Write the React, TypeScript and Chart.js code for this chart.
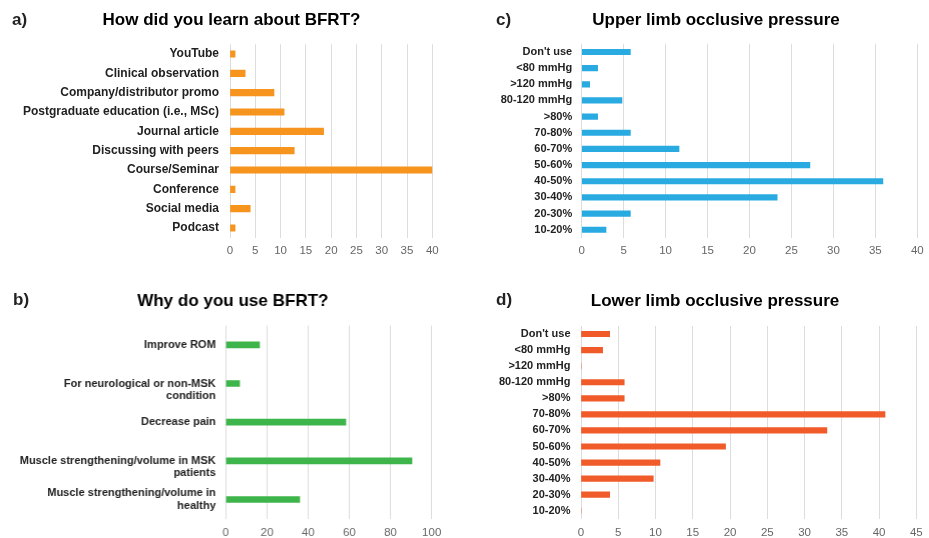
import React, { useEffect, useRef } from "react";
import { Chart, registerables } from "chart.js";

Chart.register(...registerables);

const FONT = "'Liberation Sans', Arial, Helvetica, sans-serif";

// a) How did you learn about BFRT?
const learnCategories = [
  "YouTube",
  "Clinical observation",
  "Company/distributor promo",
  "Postgraduate education (i.e., MSc)",
  "Journal article",
  "Discussing with peers",
  "Course/Seminar",
  "Conference",
  "Social media",
  "Podcast",
];
const learnValues = [1, 3, 8.7, 10.7, 18.5, 12.7, 40, 1, 4, 1];
const learnTicks = { max: 40, step: 5 };

// b) Why do you use BFRT?
const reasonCategories: (string | string[])[] = [
  "Improve ROM",
  ["", "For neurological or non-MSK", "condition"],
  "Decrease pain",
  ["", "Muscle strengthening/volume in MSK", "patients"],
  ["Muscle strengthening/volume in", "healthy"],
];
const reasonValues = [16.4, 6.7, 58.3, 90.4, 35.9];
const reasonTicks = { max: 100, step: 20 };

// c) Upper limb occlusive pressure
const pressureCategories = [
  "Don't use",
  "<80 mmHg",
  ">120 mmHg",
  "80-120 mmHg",
  ">80%",
  "70-80%",
  "60-70%",
  "50-60%",
  "40-50%",
  "30-40%",
  "20-30%",
  "10-20%",
];
const upperValues = [5.8, 1.9, 0.95, 4.8, 1.9, 5.8, 11.6, 27.2, 35.9, 23.3, 5.8, 2.9];
const upperTicks = { max: 40, step: 5 };

// d) Lower limb occlusive pressure
const lowerValues = [3.85, 2.9, 0, 5.8, 5.8, 40.8, 33.0, 19.4, 10.6, 9.7, 3.85, 0];
const lowerTicks = { max: 45, step: 5 };

type Panel = {
  letter: string;
  title: string;
  labels: (string | string[])[];
  values: number[];
  color: string;
  max: number;
  step: number;
  // layout
  left: number;
  top: number;
  width: number;
  height: number;
  axisWidth: number;
  rightWidth: number;
  labelPad: number;
  labelSize: number;
  labelLineHeight: number;
  tickPad: number;
  padBottom: number;
  titleTop: number;
  titleBottom: number;
  barThickness: number;
  letterX: number;
  letterY: number;
};

const panels: Panel[] = [
  {
    letter: "a)",
    title: "How did you learn about BFRT?",
    labels: learnCategories,
    values: learnValues,
    color: "#F7941D",
    max: learnTicks.max,
    step: learnTicks.step,
    left: 0,
    top: 0,
    width: 463,
    height: 262,
    axisWidth: 230,
    rightWidth: 30.7,
    labelPad: 11,
    labelSize: 12,
    labelLineHeight: 1.1,
    tickPad: 6,
    padBottom: 4.3,
    titleTop: 10.5,
    titleBottom: 13.4,
    barThickness: 6.5,
    letterX: 12,
    letterY: 11,
  },
  {
    letter: "b)",
    title: "Why do you use BFRT?",
    labels: reasonCategories,
    values: reasonValues,
    color: "#3DB54A",
    max: reasonTicks.max,
    step: reasonTicks.step,
    left: 0,
    top: 270,
    width: 464.6,
    height: 270,
    axisWidth: 225.3,
    rightWidth: 33.9,
    labelPad: 10,
    labelSize: 11,
    labelLineHeight: 1.15,
    tickPad: 7,
    padBottom: 1.2,
    titleTop: 21,
    titleBottom: 14.1,
    barThickness: 6,
    letterX: 13,
    letterY: 291,
  },
  {
    letter: "c)",
    title: "Upper limb occlusive pressure",
    labels: pressureCategories,
    values: upperValues,
    color: "#29ABE2",
    max: upperTicks.max,
    step: upperTicks.step,
    left: 495,
    top: 0,
    width: 442,
    height: 262,
    axisWidth: 86.7,
    rightWidth: 19.7,
    labelPad: 9.5,
    labelSize: 11,
    labelLineHeight: 1.1,
    tickPad: 6,
    padBottom: 4.2,
    titleTop: 10.5,
    titleBottom: 13,
    barThickness: 5.5,
    letterX: 496,
    letterY: 11,
  },
  {
    letter: "d)",
    title: "Lower limb occlusive pressure",
    labels: pressureCategories,
    values: lowerValues,
    color: "#F15A29",
    max: lowerTicks.max,
    step: lowerTicks.step,
    left: 493,
    top: 270,
    width: 444,
    height: 269,
    axisWidth: 88,
    rightWidth: 20.7,
    labelPad: 10.5,
    labelSize: 11,
    labelLineHeight: 1.1,
    tickPad: 7,
    padBottom: 0.2,
    titleTop: 21,
    titleBottom: 14.6,
    barThickness: 5.5,
    letterX: 496,
    letterY: 291,
  },
];

function BarPanel({ p }: { p: Panel }) {
  const ref = useRef<HTMLCanvasElement>(null);
  useEffect(() => {
    if (!ref.current) return;
    const chart = new Chart(ref.current, {
      type: "bar",
      data: {
        labels: p.labels as any,
        datasets: [
          {
            data: p.values,
            backgroundColor: p.color,
            borderWidth: 0,
            barThickness: p.barThickness,
          },
        ],
      },
      options: {
        indexAxis: "y",
        animation: false,
        responsive: true,
        maintainAspectRatio: false,
        events: [],
        layout: {
          padding: { left: 0, right: 0, top: 0, bottom: p.padBottom },
        },
        plugins: {
          legend: { display: false },
          tooltip: { enabled: false },
          title: {
            display: true,
            text: p.title,
            color: "#000",
            font: { family: FONT, size: 17, weight: "bold", lineHeight: 1.2 },
            padding: { top: p.titleTop, bottom: p.titleBottom },
          },
        },
        scales: {
          x: {
            min: 0,
            max: p.max,
            ticks: {
              stepSize: p.step,
              color: "#666",
              font: { family: FONT, size: 11.5, lineHeight: 1.2 },
              padding: p.tickPad,
            },
            grid: { color: "#dcdcdc", drawTicks: false, lineWidth: 1 },
            border: { display: false },
            afterFit: (scale: any) => {
              scale.height = 20;
            },
          },
          y: {
            ticks: {
              color: "#222",
              font: {
                family: FONT,
                size: p.labelSize,
                weight: "bold",
                lineHeight: p.labelLineHeight,
              },
              padding: p.labelPad,
              autoSkip: false,
            },
            grid: { display: false, drawTicks: false },
            border: { display: false },
            afterFit: (scale: any) => {
              scale.width = p.axisWidth;
            },
          },
          yRight: {
            type: "category",
            position: "right",
            display: true,
            ticks: { display: false },
            grid: { display: false, drawTicks: false },
            border: { display: false },
            afterFit: (scale: any) => {
              scale.width = p.rightWidth;
            },
          },
        },
      },
    });
    return () => chart.destroy();
  }, [p]);
  return (
    <div
      style={{
        position: "absolute",
        left: p.left,
        top: p.top,
        width: p.width,
        height: p.height,
      }}
    >
      <canvas ref={ref} />
    </div>
  );
}

export default function App() {
  return (
    <div
      style={{
        position: "fixed",
        left: 0,
        top: 0,
        width: 929,
        height: 538,
        background: "#fff",
        overflow: "hidden",
        fontFamily: FONT,
      }}
    >
      {panels.map((p) => (
        <BarPanel key={p.letter} p={p} />
      ))}
      {panels.map((p) => (
        <div
          key={"l" + p.letter}
          style={{
            position: "absolute",
            left: p.letterX,
            top: p.letterY,
            fontSize: 17,
            lineHeight: "17px",
            fontWeight: "bold",
            color: "#222",
          }}
        >
          {p.letter}
        </div>
      ))}
    </div>
  );
}
